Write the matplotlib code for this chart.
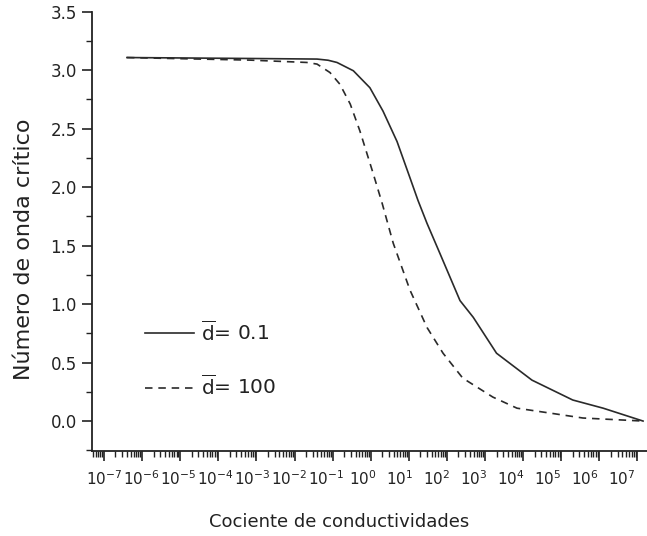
import numpy as np
import matplotlib
matplotlib.use("Agg")
import matplotlib.pyplot as plt
import matplotlib.transforms as mtransforms
from matplotlib.ticker import LogLocator, MultipleLocator, NullFormatter

# Conductivity ratio vs critical wavenumber for two values of d-bar
ratio_d01 = [4.0e-7, 6.8e-4, 3.9e-2, 7.6e-2, 1.3e-1, 3.5e-1, 9.5e-1, 2.1e0,
             4.9e0, 1.07e1, 1.74e1, 3.0e1, 6.6e1, 2.2e2, 4.9e2, 2.0e3,
             1.7e4, 2.0e5, 1.26e6, 1.4e7]
wave_d01 = [3.108, 3.100, 3.095, 3.085, 3.066, 2.995, 2.85, 2.65,
            2.39, 2.08, 1.886, 1.69, 1.43, 1.03, 0.887, 0.58,
            0.35, 0.18, 0.11, 0.0]

ratio_d100 = [4.0e-7, 6.8e-4, 2.1e-2, 3.9e-2, 8.5e-2, 1.55e-1, 2.9e-1,
              5.2e-1, 1.15e0, 2.0e0, 3.9e0, 1.07e1, 3.0e1, 7.9e1, 2.6e2,
              1.6e3, 6.9e3, 5.1e4, 3.7e5, 1.4e7]
wave_d100 = [3.108, 3.086, 3.066, 3.052, 2.98, 2.88, 2.71,
             2.48, 2.12, 1.86, 1.52, 1.12, 0.80, 0.58, 0.367,
             0.205, 0.11, 0.068, 0.026, 0.0]

labels = [r"$\overline{\mathrm{d}}$= 0.1", r"$\overline{\mathrm{d}}$= 100"]
decades = list(range(-7, 8))

W, H = 647, 536
fig = plt.figure(figsize=(W / 100, H / 100), dpi=100)
ax = fig.add_axes([92 / W, 1 - 451 / H, (W - 92) / W, (451 - 11.7) / H])

ink = "#222222"
line_color = "#2a2a2a"
ax.plot(ratio_d01, wave_d01, color=line_color, lw=1.2, ls="-", label=labels[0])
ax.plot(ratio_d100, wave_d100, color=line_color, lw=1.2, ls=(0, (4.5, 3.5)),
        label=labels[1])

ax.set_xscale("log")
ax.set_xlim(10 ** -7.315, 10 ** 7.25)
ax.set_ylim(-0.256, 3.5)

ax.spines["top"].set_visible(False)
ax.spines["right"].set_visible(False)
for s in ("left", "bottom"):
    ax.spines[s].set_linewidth(1.3)
    ax.spines[s].set_color(ink)

ax.xaxis.set_major_locator(LogLocator(base=10, numticks=30))
ax.xaxis.set_minor_locator(LogLocator(base=10, subs=np.arange(2, 10), numticks=30))
ax.xaxis.set_minor_formatter(NullFormatter())
ax.yaxis.set_major_locator(MultipleLocator(0.5))
ax.yaxis.set_minor_locator(MultipleLocator(0.25))
ax.yaxis.set_major_formatter(plt.FuncFormatter(lambda v, p: f"{v:.1f}"))

ax.tick_params(axis="both", which="major", direction="out", length=7, width=1.2,
               color=ink)
ax.tick_params(axis="both", which="minor", direction="out", length=4, width=1.0,
               color=ink)
ax.tick_params(axis="y", which="major", labelsize=12, labelcolor=ink, pad=4)
ax.tick_params(axis="x", which="major", labelbottom=False)

# Decade labels, drifting slightly left towards the high end of the axis
base = mtransforms.blended_transform_factory(ax.transData, ax.transAxes)
for n in decades:
    shift = -16.0 * (n + 7) / 14.0 / 100.0
    tr = base + mtransforms.ScaledTranslation(shift, -18 / 100.0, fig.dpi_scale_trans)
    ax.text(10.0 ** n, 0, f"$10^{{{n}}}$", transform=tr, ha="center", va="top",
            fontsize=11, color=ink)

ax.set_ylabel("Número de onda crítico", fontsize=16, color=ink)
ax.set_xlabel("Cociente de conductividades", fontsize=13, color=ink)
ax.yaxis.set_label_coords(-0.104, 0.459)
ax.xaxis.set_label_coords((339 - 92) / (W - 92), -0.14)

ax.legend(loc="upper left", bbox_to_anchor=(0.063, 0.34), frameon=False,
          fontsize=14.5, handlelength=2.45, handletextpad=0.35, labelspacing=1.5,
          labelcolor=ink)

fig.savefig("out.png", dpi=100)
